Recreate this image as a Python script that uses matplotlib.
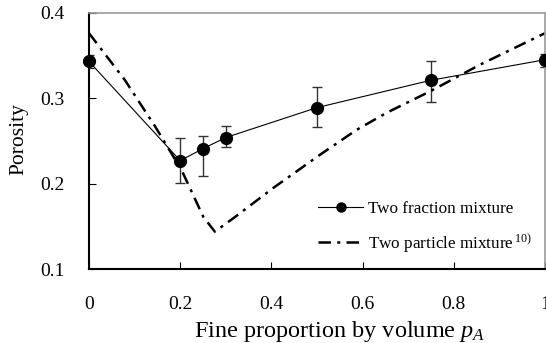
import matplotlib
matplotlib.use("Agg")
import matplotlib.pyplot as plt
from matplotlib.lines import Line2D

plt.rcParams["font.family"] = ["Liberation Serif", "DejaVu Serif"]
plt.rcParams["mathtext.fontset"] = "custom"
plt.rcParams["mathtext.rm"] = "Liberation Serif"
plt.rcParams["mathtext.it"] = "Liberation Serif:italic"

# Measured porosity of two-fraction mixtures (mean and error-bar limits)
fine_fraction = [0.0, 0.2, 0.25, 0.3, 0.5, 0.75, 1.0]
porosity_mean = [0.343, 0.227, 0.241, 0.254, 0.289, 0.321, 0.345]
porosity_low = [0.335, 0.201, 0.209, 0.243, 0.266, 0.296, 0.337]
porosity_high = [0.351, 0.253, 0.256, 0.268, 0.313, 0.343, 0.352]

# Two-particle mixture model curve
model_x = [0.0, 0.079, 0.145, 0.203, 0.251, 0.276, 0.320, 0.404, 0.507,
           0.587, 0.653, 0.748, 0.857, 1.0]
model_y = [0.376, 0.321, 0.267, 0.216, 0.161, 0.144, 0.161, 0.195, 0.234,
           0.263, 0.283, 0.308, 0.339, 0.376]

x_ticks = [0, 0.2, 0.4, 0.6, 0.8, 1]
x_tick_labels = ["0", "0.2", "0.4", "0.6", "0.8", "1"]
y_ticks = [0.1, 0.2, 0.3, 0.4]
y_tick_labels = ["0.1", "0.2", "0.3", "0.4"]

fig = plt.figure(figsize=(5.46, 3.43), dpi=100)
ax = fig.add_axes([0.163, 0.215, 0.835, 0.748])

err_lo = [m - l for m, l in zip(porosity_mean, porosity_low)]
err_hi = [h - m for m, h in zip(porosity_mean, porosity_high)]
ax.errorbar(fine_fraction, porosity_mean, yerr=[err_lo, err_hi], fmt="none",
            ecolor="#333333", elinewidth=1.0, capsize=3.5, capthick=1.0,
            zorder=2)
ax.plot(fine_fraction, porosity_mean, color="black", lw=0.8, marker="o",
        markersize=8.5, markerfacecolor="black", markeredgecolor="black",
        zorder=3, clip_on=False)

model_line, = ax.plot(model_x, model_y, color="black", lw=1.8, zorder=2)
model_line.set_dashes([5, 2.5, 1.2, 2.5])

ax.set_xlim(0, 1)
ax.set_ylim(0.1, 0.4)
ax.set_xticks(x_ticks)
ax.set_xticklabels(x_tick_labels)
ax.set_yticks(y_ticks)
ax.set_yticklabels(y_tick_labels)
ax.tick_params(axis="both", direction="in", length=5, width=0.8,
               labelsize=14, colors="black")
ax.tick_params(axis="x", pad=19)
ax.tick_params(axis="y", pad=17.5)

for side in ("left", "bottom"):
    ax.spines[side].set_linewidth(1.5)
    ax.spines[side].set_color("black")
for side in ("top", "right"):
    ax.spines[side].set_linewidth(1.2)
    ax.spines[side].set_color("#999999")

fig.text(340 / 546, 1 - 337 / 343, "Fine proportion by volume $p_A$",
         ha="center", va="baseline", fontsize=17.5)
fig.text(19 / 546, 1 - 139 / 343, "Porosity", rotation=90,
         ha="center", va="center", fontsize=15.5)

h1 = Line2D([], [], color="black", lw=0.8, marker="o", markersize=6.5)
h2 = Line2D([], [], color="black", lw=1.8, dashes=[5, 2.5, 1.2, 2.5])
ax.legend([h1, h2], ["Two fraction mixture",
                     "Two particle mixture$\\,^{\\mathrm{10)}}$"],
          loc="upper left", bbox_to_anchor=(0.502, 0.265), frameon=False,
          fontsize=12.3, handlelength=2.65, handletextpad=0.3,
          labelspacing=0.85, borderpad=0, borderaxespad=0)

fig.savefig("out.png", dpi=100)
